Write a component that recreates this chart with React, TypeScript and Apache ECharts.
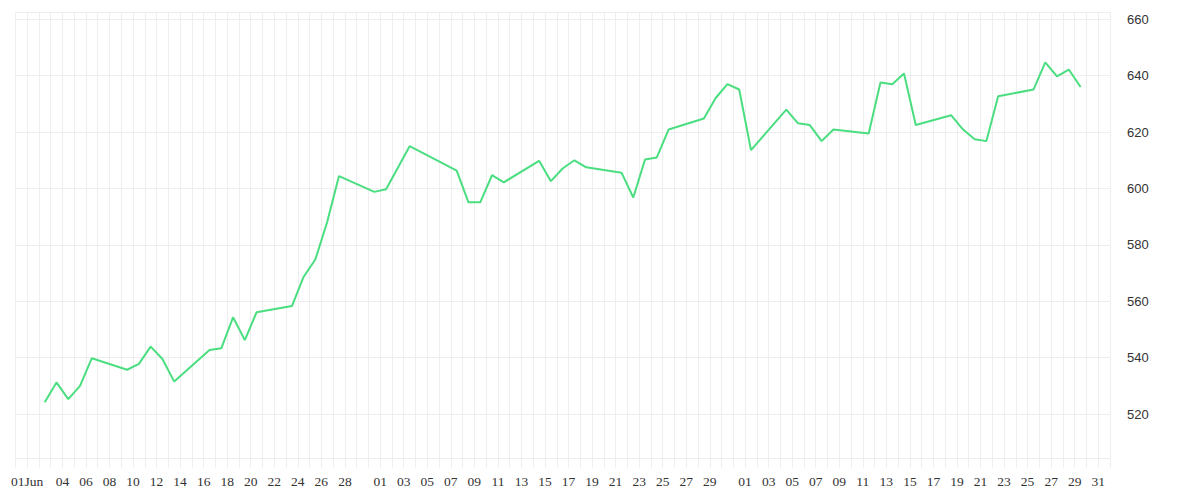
import React, { useEffect, useRef } from 'react';
import * as echarts from 'echarts';

// trading days (2025) and closing values
const dates = [
  '2025-06-02', '2025-06-03', '2025-06-04', '2025-06-05', '2025-06-06',
  '2025-06-09', '2025-06-10', '2025-06-11', '2025-06-12', '2025-06-13',
  '2025-06-16', '2025-06-17', '2025-06-18', '2025-06-19', '2025-06-20',
  '2025-06-23', '2025-06-24', '2025-06-25', '2025-06-26', '2025-06-27',
  '2025-06-30', '2025-07-01', '2025-07-03',
  '2025-07-07', '2025-07-08', '2025-07-09', '2025-07-10', '2025-07-11',
  '2025-07-14', '2025-07-15', '2025-07-16', '2025-07-17', '2025-07-18',
  '2025-07-21', '2025-07-22', '2025-07-23', '2025-07-24', '2025-07-25',
  '2025-07-28', '2025-07-29', '2025-07-30', '2025-07-31', '2025-08-01',
  '2025-08-04', '2025-08-05', '2025-08-06', '2025-08-07', '2025-08-08',
  '2025-08-11', '2025-08-12', '2025-08-13', '2025-08-14', '2025-08-15',
  '2025-08-18', '2025-08-19', '2025-08-20', '2025-08-21', '2025-08-22',
  '2025-08-25', '2025-08-26', '2025-08-27', '2025-08-28', '2025-08-29'
];

const prices = [
  524.2, 531.2, 525.3, 530.0, 539.8,
  535.7, 537.8, 543.9, 539.5, 531.5,
  542.7, 543.3, 554.3, 546.2, 556.1,
  558.3, 568.7, 574.9, 588.2, 604.4,
  598.8, 599.7, 615.0,
  606.3, 595.1, 595.1, 604.7, 602.2,
  609.8, 602.6, 607.1, 610.0, 607.5,
  605.6, 596.8, 610.3, 611.0, 620.9,
  624.8, 632.1, 637.0, 635.1, 613.6,
  628.0, 623.1, 622.5, 616.8, 620.9,
  619.5, 637.6, 637.0, 640.8, 622.5,
  626.0, 621.0, 617.5, 616.8, 632.7,
  635.1, 644.7, 639.8, 642.2, 636.0
];

// days of the month that carry a label on the x axis
const junLabelDays = [1, 4, 6, 8, 10, 12, 14, 16, 18, 20, 22, 24, 26, 28];
const julLabelDays = [1, 3, 5, 7, 9, 11, 13, 15, 17, 19, 21, 23, 25, 27, 29];
const augLabelDays = [1, 3, 5, 7, 9, 11, 13, 15, 17, 19, 21, 23, 25, 27, 29, 31];

const axisStart = '2025-05-31';
const axisEnd = '2025-09-01';
const yMin = 504.4;
const yMax = 662.6;

const DAY = 86400000;
const GRID = '#eeeeee';

const App = () => {
  const chartRef = useRef<HTMLDivElement | null>(null);

  useEffect(() => {
    if (!chartRef.current) return;
    const chart = echarts.init(chartRef.current, null, { renderer: 'svg' });

    // each point sits in the middle of its day
    const seriesData = dates.map((d, i) => [Date.parse(d) + DAY / 2, prices[i]]);

    const labelFor = (value: number) => {
      const d = new Date(value);
      const m = d.getUTCMonth();
      const day = d.getUTCDate();
      const dd = String(day).padStart(2, '0');
      if (m === 5 && junLabelDays.includes(day)) return day === 1 ? dd + 'Jun' : dd;
      if (m === 6 && julLabelDays.includes(day)) return dd;
      if (m === 7 && augLabelDays.includes(day)) return dd;
      return '';
    };

    chart.setOption({
      animation: false,
      grid: { left: 15.3, right: 90, top: 12, bottom: 42 },
      xAxis: {
        type: 'value',
        min: Date.parse(axisStart),
        max: Date.parse(axisEnd),
        interval: DAY,
        axisLine: { show: true, lineStyle: { color: GRID, width: 1 } },
        axisTick: { show: true, length: 10, lineStyle: { color: GRID } },
        splitLine: { show: true, lineStyle: { color: GRID, width: 1 } },
        axisLabel: {
          formatter: labelFor,
          margin: 16,
          color: '#333',
          fontSize: 13.5,
          fontFamily: 'Liberation Serif'
        }
      },
      yAxis: {
        type: 'value',
        position: 'right',
        min: yMin,
        max: yMax,
        splitNumber: 8,
        axisLine: { show: false },
        axisTick: { show: false },
        splitLine: { show: true, lineStyle: { color: GRID, width: 1 } },
        axisLabel: {
          showMinLabel: false,
          showMaxLabel: false,
          margin: 17,
          color: '#333',
          fontSize: 13,
          fontFamily: 'sans-serif'
        }
      },
      series: [
        {
          type: 'line',
          data: seriesData,
          symbol: 'none',
          lineStyle: { color: '#4ade80', width: 2 }
        }
      ]
    });

    return () => {
      chart.dispose();
    };
  }, []);

  return (
    <div
      ref={chartRef}
      style={{ position: 'absolute', left: 0, top: 0, width: '1200px', height: '500px' }}
    />
  );
};

export default App;
